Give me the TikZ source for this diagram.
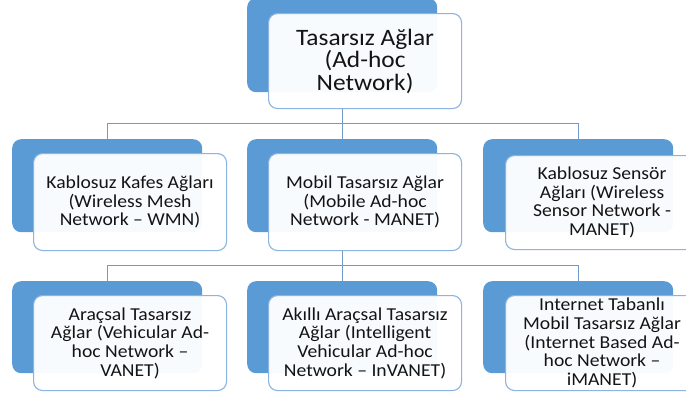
\documentclass[tikz,border=0pt]{standalone}
\usepackage{fontspec}
\setmainfont{Carlito}[FakeStretch=1.08]
\definecolor{accent}{HTML}{5B9BD5}
\definecolor{frame}{HTML}{8DB3E2}
\definecolor{wire}{HTML}{6F9ACB}
\definecolor{ink}{HTML}{141414}
\begin{document}
\begin{tikzpicture}[x=1pt,y=-1pt,
  backbox/.style={draw=none, fill=accent, rounded corners=9pt, anchor=north west,
    minimum width=190pt, minimum height=93pt, inner sep=0pt},
  frontbox/.style={draw=frame, line width=1.1pt, fill=white, fill opacity=0.96, text opacity=1,
    rounded corners=9pt, anchor=north west, minimum width=193pt, minimum height=96pt,
    inner sep=0pt, align=center, text=ink, font=\fontsize{18.2}{18.6}\selectfont},
  wireline/.style={draw=wire, line width=1.1pt}]
\useasboundingbox (0,0) rectangle (686,399);
\clip (0,0) rectangle (686,399);

% root
\node[backbox, minimum height=94pt] (rootbg) at (247,-2) {};
\node[frontbox, minimum height=95pt, font=\fontsize{23.5}{22.5}\selectfont] (root) at (268,13)
  {Tasarsız Ağlar\\(Ad-hoc\\Network)};

% second level
\node[backbox] (mbg) at (247,139) {};
\node[backbox] (lbg) at (12,139) {};
\node[backbox] (rbg) at (483,139) {};

\node[frontbox, minimum height=97pt] (wmn) at (33,153)
  {Kablosuz Kafes Ağları\\(Wireless Mesh\\Network -- WMN)};
\node[frontbox, minimum height=97pt] (manet) at (268,153)
  {Mobil Tasarsız Ağlar\\(Mobile Ad-hoc\\Network - MANET)};
\node[frontbox, minimum height=94pt] (wsn) at (505,155)
  {Kablosuz Sensör\\Ağları (Wireless\\Sensor Network -\\MANET)};

% third level
\node[backbox, minimum height=92pt] (vbg) at (12,281) {};
\node[backbox, minimum height=92pt] (ibg) at (247,281) {};
\node[backbox, minimum height=92pt] (ebg) at (483,281) {};

\node[frontbox, minimum height=95pt] (vanet) at (33,295)
  {Araçsal Tasarsız\\Ağlar (Vehicular Ad-\\hoc Network --\\VANET)};
\node[frontbox, minimum height=95pt] (invanet) at (268,295)
  {Akıllı Araçsal Tasarsız\\Ağlar (Intelligent\\Vehicular Ad-hoc\\Network -- InVANET)};
\node[frontbox, minimum height=95pt] (imanet) at (505,295)
  {Internet Tabanlı\\Mobil Tasarsız Ağlar\\(Internet Based Ad-\\hoc Network --\\iMANET)};

% connectors
\draw[wireline] (rootbg.center |- root.south) -- ++(0,14) coordinate (bus1);
\draw[wireline] (lbg.north) |- (bus1) -| (rbg.north);
\draw[wireline] (bus1) -- (mbg.north -| bus1);
\draw[wireline] (rootbg.center |- manet.south) -- ++(0,14) coordinate (bus2);
\draw[wireline] (vbg.north) |- (bus2) -| (ebg.north);
\draw[wireline] (bus2) -- (ibg.north -| bus2);
\end{tikzpicture}
\end{document}
